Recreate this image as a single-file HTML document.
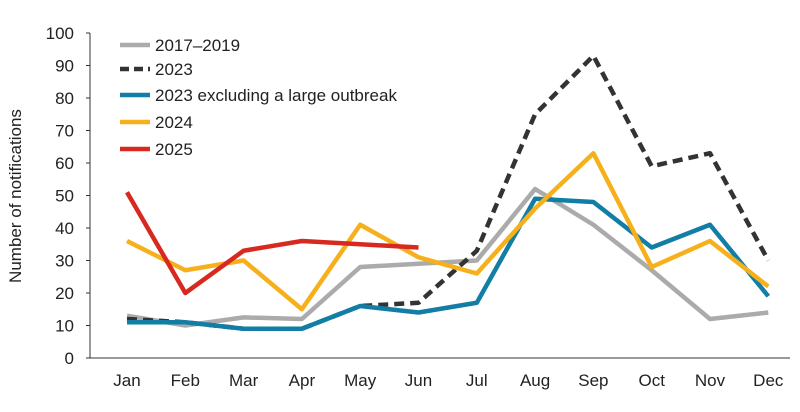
<!DOCTYPE html>
<html><head><meta charset="utf-8">
<style>
html,body{margin:0;padding:0;background:#fff;}
svg{display:block;font-family:"Liberation Sans",sans-serif;}
</style></head>
<body>
<svg id="chart" width="800" height="412" viewBox="0 0 800 412" xmlns="http://www.w3.org/2000/svg"></svg>
<script>
const months = ["Jan","Feb","Mar","Apr","May","Jun","Jul","Aug","Sep","Oct","Nov","Dec"];
const yTicks = [0,10,20,30,40,50,60,70,80,90,100];
const s2017 = [13,10,12.5,12,28,29,30,52,41,27,12,14];
const s2023 = [12,11,9,9,16,17,33,75,93,59,63,30];
const s2023ex = [11,11,9,9,16,14,17,49,48,34,41,19];
const s2024 = [36,27,30,15,41,31,26,46,63,28,36,22];
const s2025 = [51,20,33,36,35,34];
const seriesNames = ["2017\u20132019","2023","2023 excluding a large outbreak","2024","2025"];

const NS="http://www.w3.org/2000/svg";
const svg=document.getElementById('chart');
const x=i=>127+i*58.3;
const y=v=>358-v*3.25;
function mk(t,a,p){const e=document.createElementNS(NS,t);for(const k in a)e.setAttribute(k,a[k]);(p||svg).appendChild(e);return e;}

const axes=mk('g',{});


const ya=mk('line',{x1:90,y1:33,x2:90,y2:358,stroke:'#333','stroke-width':1},axes);


const xa=mk('line',{x1:90,y1:358,x2:790,y2:358,stroke:'#333','stroke-width':1},axes);


yTicks.forEach(v=>{
  const t=mk('text',{x:74,y:y(v)+6,'text-anchor':'end','font-size':17,fill:'#222'},axes);
  t.textContent=v;
  
  
  mk('line',{x1:86,y1:y(v),x2:90,y2:y(v),stroke:'#333'},axes);
});
months.forEach((m,i)=>{
  const t=mk('text',{x:x(i),y:386,'text-anchor':'middle','font-size':17,fill:'#222'},axes);
  t.textContent=m;
  
  
});
const yl=mk('text',{x:0,y:0,'text-anchor':'middle','font-size':17,fill:'#222',transform:'translate(21,196) rotate(-90)'},axes);
yl.textContent='Number of notifications';



function line(data,color,dash,name){
  const p=mk('polyline',{points:data.map((v,i)=>x(i)+','+y(v)).join(' '),fill:'none',stroke:color,'stroke-width':4.5,'stroke-linejoin':'round','stroke-dasharray':dash||'none'});
  
  
}
line(s2017,'#ababab',null,'series-2017-2019');
line(s2023,'#333333','10 6','series-2023');
line(s2023ex,'#127ea6',null,'series-2023-excluding-outbreak');
line(s2024,'#f6b01c',null,'series-2024');
line(s2025,'#d7291f',null,'series-2025');

const colors=['#ababab','#333333','#127ea6','#f6b01c','#d7291f'];
const legY=[45,69,95,122,149];
const leg=mk('g',{});


seriesNames.forEach((n,i)=>{
  const g=mk('g',{},leg);
  
  
  mk('line',{x1:120,y1:legY[i],x2:150,y2:legY[i],stroke:colors[i],'stroke-width':4.5,'stroke-dasharray':i===1?'9 5':'none'},g);
  const t=mk('text',{x:155,y:legY[i]+6,'font-size':17,fill:'#222'},g);
  t.textContent=n;
});
</script>
</body></html>
